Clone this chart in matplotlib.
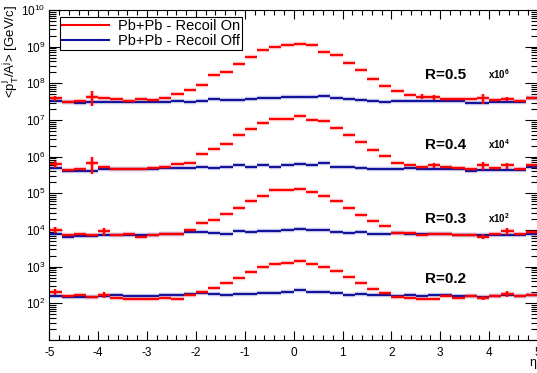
import numpy as np
import matplotlib
matplotlib.use('Agg')
import matplotlib.pyplot as plt
from matplotlib.lines import Line2D
from matplotlib.ticker import LogLocator, NullFormatter, FixedLocator

plt.rcParams['font.family'] = ['Liberation Sans', 'DejaVu Sans']
plt.rcParams['mathtext.default'] = 'regular'
plt.rcParams['axes.unicode_minus'] = False


#%% data: 40 eta bins of width 0.25 from -5 to 5, values before the x10^n offset
eta_lo, eta_hi, nbins = -5.0, 5.0, 40
eta = np.linspace(eta_lo, eta_hi, nbins + 1)
eta = 0.5 * (eta[:-1] + eta[1:])
half_bin = 0.125

radii = [0.5, 0.4, 0.3, 0.2]
offsets = {0.5: 1e6, 0.4: 1e4, 0.3: 1e2, 0.2: 1.0}
offset_labels = {0.5: 'x10$^{6}$', 0.4: 'x10$^{4}$', 0.3: 'x10$^{2}$', 0.2: ''}

recoil_on = {
    0.5: [38.9, 31.6, 33.9, 43.7, 38.9, 36.3, 33.1, 37.6, 35.5, 38.9,
          52.5, 66.1, 91.2, 166, 209, 331, 537, 794, 977, 1096,
          1202, 1122, 724, 575, 355, 234, 132, 87.1, 63.1, 47.9,
          43.7, 41.7, 37.6, 37.6, 36.3, 39.8, 35.5, 37.6, 33.9, 39.8],
    0.4: [63.1, 43.7, 46.8, 66.1, 51.3, 46.8, 46.8, 46.8, 49.0, 51.3,
          63.1, 69.2, 120, 162, 224, 389, 575, 813, 1072, 1072,
          1259, 1023, 912, 603, 380, 245, 148, 102, 66.1, 60.3,
          53.7, 57.5, 51.3, 49.0, 44.7, 57.5, 49.0, 57.5, 46.8, 60.3],
    0.3: [102, 70.8, 79.4, 70.8, 91.2, 70.8, 75.9, 64.6, 74.1, 75.9,
          79.4, 102, 155, 191, 275, 407, 603, 832, 1202, 1259,
          1288, 1122, 871, 617, 407, 263, 174, 129, 83.2, 83.2,
          74.1, 75.9, 75.9, 70.8, 74.1, 66.1, 79.4, 93.3, 75.9, 87.1],
    0.2: [209, 158, 166, 148, 174, 141, 135, 129, 135, 138,
          135, 166, 209, 269, 355, 501, 708, 1000, 1202, 1288,
          1413, 1202, 1000, 741, 525, 355, 251, 191, 148, 141,
          135, 129, 155, 141, 155, 138, 155, 182, 155, 170],
}

recoil_off = {
    0.5: [33.9, 30.9, 29.5, 30.9, 31.6, 31.6, 30.9, 31.6, 31.6, 31.6,
          33.1, 31.6, 33.9, 37.2, 35.5, 35.5, 37.2, 38.9, 38.9, 41.7,
          43.7, 41.7, 45.7, 38.9, 36.3, 35.5, 33.9, 30.9, 33.9, 33.9,
          32.4, 32.4, 33.9, 33.9, 29.5, 29.5, 30.9, 30.9, 30.9, 38.9],
    0.4: [49.0, 41.7, 41.7, 41.7, 44.7, 44.7, 46.8, 46.8, 46.8, 49.0,
          49.0, 49.0, 51.3, 50.1, 51.3, 57.5, 51.3, 60.3, 53.7, 60.3,
          63.1, 60.3, 66.1, 53.7, 51.3, 50.1, 46.8, 44.7, 46.8, 49.0,
          46.8, 46.8, 46.8, 44.7, 41.7, 43.7, 43.7, 43.7, 43.7, 51.3],
    0.3: [75.9, 66.1, 67.6, 67.6, 74.1, 70.8, 70.8, 70.8, 74.1, 75.9,
          79.4, 87.1, 87.1, 83.2, 79.4, 91.2, 87.1, 91.2, 91.2, 97.7,
          107, 97.7, 102, 87.1, 83.2, 87.1, 75.9, 79.4, 83.2, 79.4,
          75.9, 75.9, 75.9, 74.1, 70.8, 70.8, 70.8, 70.8, 74.1, 79.4],
    0.2: [155, 148, 148, 148, 155, 170, 158, 158, 158, 166,
          170, 182, 195, 182, 170, 182, 182, 195, 191, 204,
          224, 204, 204, 191, 170, 182, 166, 166, 158, 166,
          158, 166, 166, 158, 158, 148, 158, 166, 158, 170],
}

# relative stat. errors: small everywhere, bigger in a few bins
on_err_default = 0.06
on_err_big = {
    0.5: {0: 0.15, 3: 0.45, 30: 0.15, 31: 0.15, 35: 0.3, 37: 0.15},
    0.4: {0: 0.2, 3: 0.5, 31: 0.15, 35: 0.25, 37: 0.2},
    0.3: {0: 0.2, 4: 0.25, 35: 0.15, 37: 0.2},
    0.2: {0: 0.2, 4: 0.2, 35: 0.12, 37: 0.2},
}
off_err = 0.03

xticks = list(range(-5, 6))

red = '#ff0000'
blue = '#10109a'


#%% plot
fig = plt.figure(figsize=(5.37, 3.73), dpi=100)
ax = fig.add_axes([49.3 / 537, 1 - 340 / 373, (538 - 49.3) / 537, 330 / 373])

for R in radii:
    sc = offsets[R]
    y_off = np.array(recoil_off[R]) * sc
    y_on = np.array(recoil_on[R]) * sc
    rel = np.full(nbins, on_err_default)
    for i, e in on_err_big[R].items():
        rel[i] = e

    for col, y, r in ((blue, y_off, np.full(nbins, off_err)), (red, y_on, rel)):
        # soft halo + line, ROOT-ish look
        ax.errorbar(eta, y, xerr=half_bin, yerr=y * r, fmt='none',
                    ecolor=col, elinewidth=3.2, alpha=0.25, capsize=0)
        ax.errorbar(eta, y, xerr=half_bin, yerr=y * r, fmt='none',
                    ecolor=col, elinewidth=1.4, capsize=0)

ax.set_yscale('log')
ax.set_xlim(eta_lo, eta_hi)
ax.set_ylim(10, 1e10)

ax.xaxis.set_major_locator(FixedLocator(xticks))
ax.xaxis.set_minor_locator(FixedLocator(np.arange(-50, 51, 2) / 10.0))
ax.set_xticklabels([str(k) for k in xticks])
ax.yaxis.set_major_locator(FixedLocator([10.0 ** k for k in range(1, 11)]))
ax.yaxis.set_minor_locator(LogLocator(base=10, subs=np.arange(2, 10), numticks=20))
ax.yaxis.set_minor_formatter(NullFormatter())
ax.set_yticklabels([''] + ['10$^{%d}$' % k for k in range(2, 11)])

ax.tick_params(which='both', direction='in', top=True, right=True, width=0.8, colors='black')
ax.tick_params(axis='x', which='major', length=6.5, labelsize=8.5, pad=5)
ax.tick_params(axis='x', which='minor', length=3.4)
ax.tick_params(axis='y', which='major', length=9.5, labelsize=8.5, pad=3)
ax.tick_params(axis='y', which='minor', length=5)
for s in ax.spines.values():
    s.set_linewidth(0.8)

# R labels and offsets
r_text_y = {0.5: 10 ** 8.12, 0.4: 10 ** 6.21, 0.3: 10 ** 4.19, 0.2: 10 ** 2.555}
for R in radii:
    ax.text(2.69, r_text_y[R], 'R=%.1f' % R, fontsize=11, fontweight='bold', va='baseline')
    if offset_labels[R]:
        ax.text(3.98, r_text_y[R], offset_labels[R], fontsize=7, fontweight='bold', va='baseline')

handles = [Line2D([], [], color=red, lw=1.5), Line2D([], [], color=blue, lw=1.5)]
leg = ax.legend(handles, ['Pb+Pb - Recoil On', 'Pb+Pb - Recoil Off'],
                loc='upper left', bbox_to_anchor=(0.022, 0.979), borderaxespad=0,
                fontsize=10.5, frameon=True, fancybox=False, framealpha=1,
                edgecolor='black', borderpad=0.15, labelspacing=0.05,
                handlelength=3.2, handletextpad=0.6)
leg.get_frame().set_linewidth(0.8)

fig.text(10.5 / 537, 1 - 5 / 373, r'<p$_{T}^{j}$/A$^{j}$> [GeV/c]', rotation=90,
         ha='center', va='top', fontsize=9.5)
fig.text(533 / 537, 1 - 364 / 373, r'$\eta$', ha='center', va='center', fontsize=9)

fig.savefig('out.png', dpi=100)
